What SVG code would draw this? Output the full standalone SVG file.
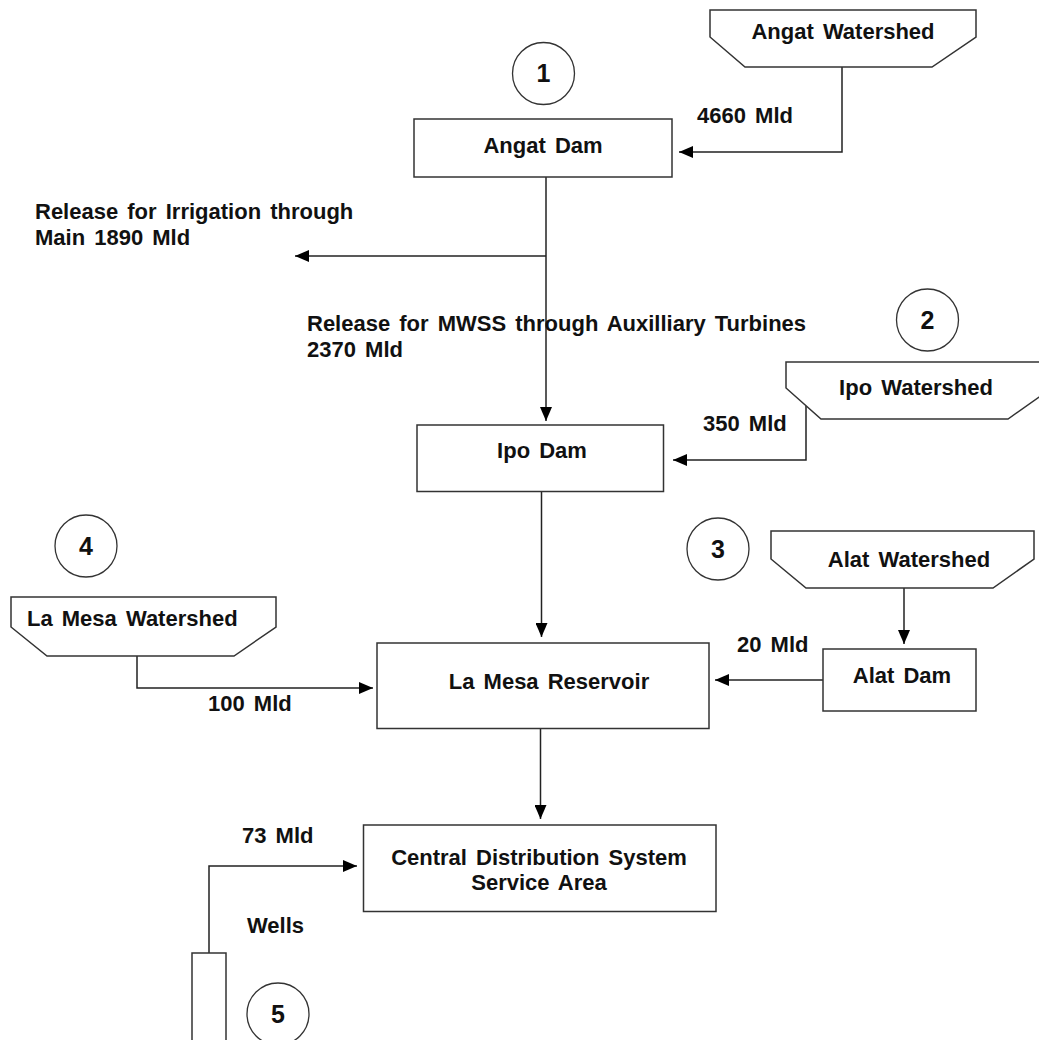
<svg xmlns="http://www.w3.org/2000/svg" width="1039" height="1040" viewBox="0 0 1039 1040">
<style>
text{font-family:"Liberation Sans",Arial,sans-serif;font-weight:bold;font-size:22px;fill:#111;word-spacing:3px}
.c{text-anchor:middle}
.e{text-anchor:end}
.num{font-size:25px;text-anchor:middle}
.box{fill:#fff;stroke:#333;stroke-width:1.5}
.ws{fill:#fff;stroke:#333;stroke-width:1.5}
.circ{fill:#fff;stroke:#333;stroke-width:1.3}
.ln{fill:none;stroke:#222;stroke-width:1.5}
</style>
<defs>
<marker id="ah" markerUnits="userSpaceOnUse" markerWidth="14" markerHeight="12" refX="14" refY="6" orient="auto">
<path d="M0,0 L14,6 L0,12 z" fill="#000"/>
</marker>
</defs>
<rect width="1039" height="1040" fill="#fff"/>
<g id="connectors">
<path class="ln" d="M842,67 V152 H679" marker-end="url(#ah)"/>
<path class="ln" d="M546,177 V421" marker-end="url(#ah)"/>
<path class="ln" d="M546,256 H295" marker-end="url(#ah)"/>
<path class="ln" d="M806,406 V460 H673" marker-end="url(#ah)"/>
<path class="ln" d="M541.5,492 V637" marker-end="url(#ah)"/>
<path class="ln" d="M137,656 V688 H373" marker-end="url(#ah)"/>
<path class="ln" d="M904,588 V644" marker-end="url(#ah)"/>
<path class="ln" d="M823,680 H715" marker-end="url(#ah)"/>
<path class="ln" d="M540.5,728 V819" marker-end="url(#ah)"/>
<path class="ln" d="M209,953 V866 H357" marker-end="url(#ah)"/>
</g>
<g id="labels">
<text class="e" x="793" y="123">4660 Mld</text>
<text x="35" y="219">Release for Irrigation through</text>
<text x="35" y="245">Main 1890 Mld</text>
<text x="307" y="331">Release for MWSS through Auxilliary Turbines</text>
<text x="307" y="357">2370 Mld</text>
<text x="703" y="431">350 Mld</text>
<text x="208" y="711">100 Mld</text>
<text x="737" y="652">20 Mld</text>
<text x="242" y="843">73 Mld</text>
<text x="247" y="933">Wells</text>
</g>
<g id="angat-watershed">
<polygon class="ws" points="710,10 710,37 745,67 932,67 976,37 976,10"/>
<text class="c" x="843" y="39">Angat Watershed</text>
</g>
<g id="circle-1">
<circle class="circ" cx="543.5" cy="73.5" r="31"/>
<text class="num" x="543.5" y="82">1</text>
</g>
<g id="angat-dam">
<rect class="box" x="414" y="119" width="258" height="58"/>
<text class="c" x="543" y="153">Angat Dam</text>
</g>
<g id="circle-2">
<circle class="circ" cx="927.5" cy="320" r="31"/>
<text class="num" x="927.5" y="329">2</text>
</g>
<g id="ipo-watershed">
<polygon class="ws" points="786,362 786,388 821,419 1008,419 1052,388 1052,362"/>
<text class="c" x="916" y="395">Ipo Watershed</text>
</g>
<g id="ipo-dam">
<rect class="box" x="417" y="425" width="246.5" height="66.5"/>
<text class="c" x="542" y="458">Ipo Dam</text>
</g>
<g id="circle-4">
<circle class="circ" cx="86" cy="546" r="31"/>
<text class="num" x="86" y="555">4</text>
</g>
<g id="circle-3">
<circle class="circ" cx="718" cy="549" r="31"/>
<text class="num" x="718" y="558">3</text>
</g>
<g id="la-mesa-watershed">
<polygon class="ws" points="11,597 11,627 47,656 234,656 276,627 276,597"/>
<text x="27" y="626">La Mesa Watershed</text>
</g>
<g id="alat-watershed">
<polygon class="ws" points="771,531 771,559 806,588 993,588 1034,559 1034,531"/>
<text class="c" x="909" y="567">Alat Watershed</text>
</g>
<g id="alat-dam">
<rect class="box" x="823" y="649" width="153" height="62"/>
<text class="c" x="902" y="683">Alat Dam</text>
</g>
<g id="la-mesa-reservoir">
<rect class="box" x="377" y="643" width="332" height="85.5"/>
<text class="c" x="549" y="689">La Mesa Reservoir</text>
</g>
<g id="central-distribution">
<rect class="box" x="363.5" y="825" width="352.5" height="86.5"/>
<text class="c" x="539" y="865">Central Distribution System</text>
<text class="c" x="539" y="890">Service Area</text>
</g>
<g id="wells">
<rect class="box" x="192" y="953" width="34" height="100"/>
</g>
<g id="circle-5">
<circle class="circ" cx="278" cy="1014" r="31"/>
<text class="num" x="278" y="1023">5</text>
</g>
</svg>
